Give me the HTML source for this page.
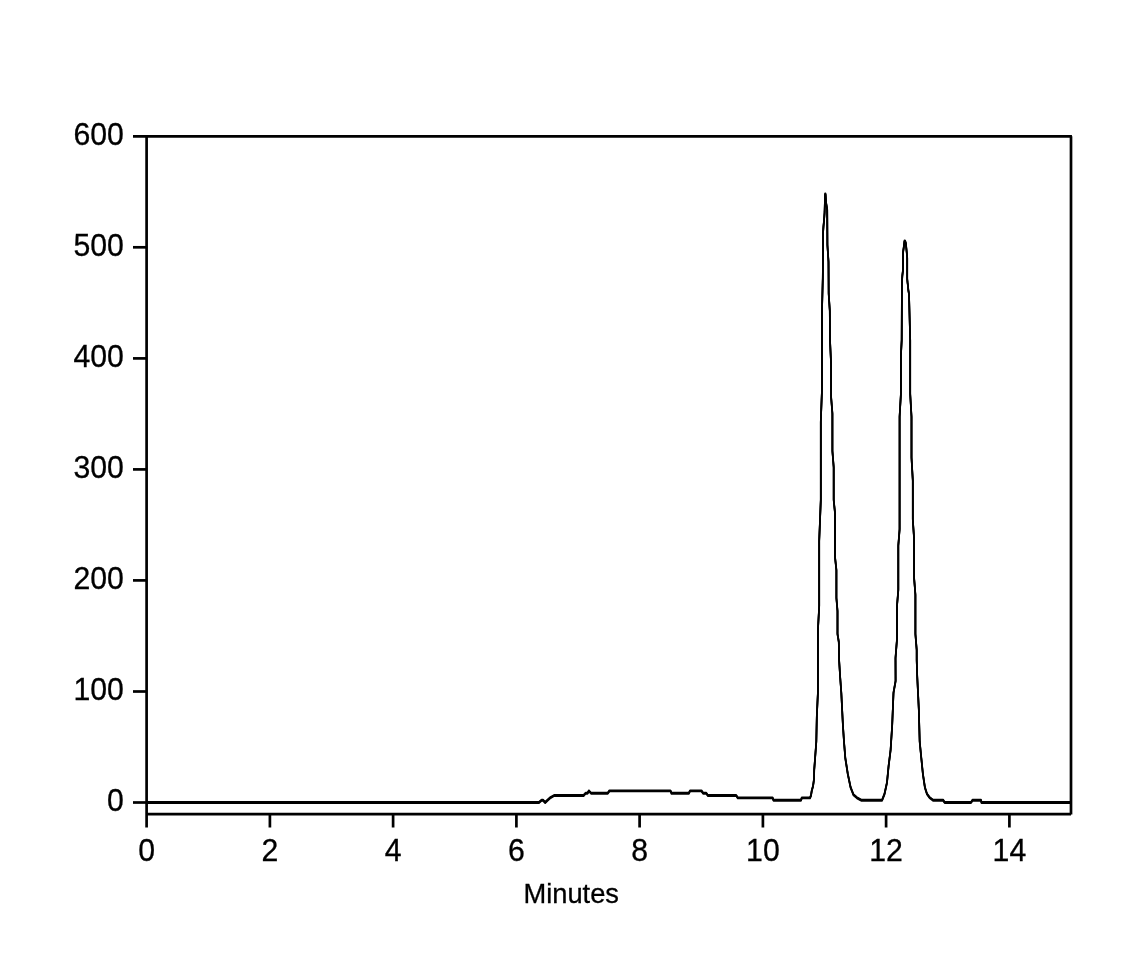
<!DOCTYPE html>
<html lang="en"><head><meta charset="utf-8"><title>Chromatogram</title>
<style>html,body{margin:0;padding:0;background:#fff;}svg{display:block;}text{font-family:"Liberation Sans",Arial,sans-serif;fill:#000;stroke:#000;stroke-width:0.3px;}</style></head><body>
<svg width="1141" height="980" viewBox="0 0 1141 980">
<rect width="1141" height="980" fill="#fff"/>
<g stroke="#000" stroke-width="2.7" fill="none" stroke-linecap="butt">
<line x1="146.6" y1="134.95000000000002" x2="146.6" y2="827.5"/>
<line x1="1071.0" y1="136.3" x2="1071.0" y2="814.6"/>
<line x1="133" y1="136.3" x2="1071.9499999999998" y2="136.3"/>
<line x1="146.6" y1="814.1" x2="1071.0" y2="814.1"/>
<line x1="133" y1="802.5" x2="146.6" y2="802.5"/>
<line x1="133" y1="691.5" x2="146.6" y2="691.5"/>
<line x1="133" y1="580.4" x2="146.6" y2="580.4"/>
<line x1="133" y1="469.4" x2="146.6" y2="469.4"/>
<line x1="133" y1="358.4" x2="146.6" y2="358.4"/>
<line x1="133" y1="247.3" x2="146.6" y2="247.3"/>
<line x1="269.9" y1="814.1" x2="269.9" y2="827.5"/>
<line x1="393.1" y1="814.1" x2="393.1" y2="827.5"/>
<line x1="516.4" y1="814.1" x2="516.4" y2="827.5"/>
<line x1="639.6" y1="814.1" x2="639.6" y2="827.5"/>
<line x1="762.9" y1="814.1" x2="762.9" y2="827.5"/>
<line x1="886.1" y1="814.1" x2="886.1" y2="827.5"/>
<line x1="1009.4" y1="814.1" x2="1009.4" y2="827.5"/>
</g>
<g fill="none" stroke="#000" stroke-width="1.7" stroke-linejoin="round" stroke-linecap="butt">
<polyline transform="translate(0,-0.6)" points="146.6,802.5 538.9,802.5 541.6,800.2 543.0,800.2 545.2,802.5 547.5,800.2 550.0,797.9 554.2,795.5 583.6,795.5 585.7,793.2 587.5,793.2 588.9,790.9 591.0,793.2 607.8,793.2 609.4,790.9 670.5,790.9 671.5,793.2 688.9,793.2 690.0,790.9 701.5,790.9 703.1,793.2 706.3,793.2 707.8,795.5 736.2,795.5 737.8,797.9 772.6,797.9 773.5,800.2 801.0,800.2 801.8,797.9 810.0,797.9 811.0,795.5 811.8,790.4 813.0,786.3 813.6,782.2 814.1,778.2 814.2,770.0 815.1,758.0 816.3,741.7 816.8,717.0 817.9,692.7 817.9,630.7 819.2,606.0 819.2,540.8 820.8,500.0 820.8,421.7 822.0,389.0 822.0,310.7 822.8,278.0 823.1,245.0 823.1,232.0 823.5,226.0 824.0,221.0 824.6,212.5 825.1,194.0 825.5,194.0 826.1,203.0 827.2,209.5 827.4,245.0 828.5,261.7 828.7,294.0 829.8,310.7 830.0,340.0 831.1,364.5 831.1,397.0 832.4,413.5 832.4,451.0 833.7,467.4 833.7,500.0 835.0,513.0 835.0,557.0 836.4,570.0 836.4,598.0 837.5,611.0 837.5,634.0 838.8,642.0 839.1,660.0 840.1,676.3 841.3,692.7 842.1,709.0 842.9,725.0 844.0,741.7 845.3,758.0 847.8,774.0 850.6,787.4 853.5,794.8 857.0,797.8 861.2,800.2 882.1,800.2 884.5,794.0 887.0,782.5 888.6,766.0 890.6,750.0 892.2,725.0 893.5,692.7 895.6,681.0 895.5,658.0 897.0,639.0 897.0,606.0 898.3,590.0 898.3,545.7 899.6,529.4 899.6,416.8 900.9,394.0 900.9,356.0 901.7,340.0 901.9,290.0 902.0,282.0 902.3,276.0 903.0,270.0 903.1,252.0 903.8,247.0 904.5,241.0 905.0,241.0 905.8,243.0 906.3,248.0 906.9,254.0 907.2,258.0 907.2,279.0 907.6,283.0 908.0,286.0 908.3,290.0 909.0,294.0 910.2,340.0 910.2,394.0 911.5,416.8 911.5,457.6 912.8,480.5 912.8,519.6 914.1,539.0 914.1,578.0 915.4,594.7 915.4,634.0 916.7,650.0 916.7,660.0 917.2,676.0 918.8,709.0 919.7,741.7 921.3,758.0 922.9,774.0 924.9,787.4 927.0,794.0 929.5,797.4 933.1,800.2 943.1,800.2 944.7,802.5 971.0,802.5 972.6,800.2 981.0,800.2 981.5,802.5 1071.0,802.5"/>
<polyline transform="translate(0,0)" points="146.6,802.5 538.9,802.5 541.6,800.2 543.0,800.2 545.2,802.5 547.5,800.2 550.0,797.9 554.2,795.5 583.6,795.5 585.7,793.2 587.5,793.2 588.9,790.9 591.0,793.2 607.8,793.2 609.4,790.9 670.5,790.9 671.5,793.2 688.9,793.2 690.0,790.9 701.5,790.9 703.1,793.2 706.3,793.2 707.8,795.5 736.2,795.5 737.8,797.9 772.6,797.9 773.5,800.2 801.0,800.2 801.8,797.9 810.0,797.9 811.0,795.5 811.8,790.4 813.0,786.3 813.6,782.2 814.1,778.2 814.2,770.0 815.1,758.0 816.3,741.7 816.8,717.0 817.9,692.7 817.9,630.7 819.2,606.0 819.2,540.8 820.8,500.0 820.8,421.7 822.0,389.0 822.0,310.7 822.8,278.0 823.1,245.0 823.1,232.0 823.5,226.0 824.0,221.0 824.6,212.5 825.1,194.0 825.5,194.0 826.1,203.0 827.2,209.5 827.4,245.0 828.5,261.7 828.7,294.0 829.8,310.7 830.0,340.0 831.1,364.5 831.1,397.0 832.4,413.5 832.4,451.0 833.7,467.4 833.7,500.0 835.0,513.0 835.0,557.0 836.4,570.0 836.4,598.0 837.5,611.0 837.5,634.0 838.8,642.0 839.1,660.0 840.1,676.3 841.3,692.7 842.1,709.0 842.9,725.0 844.0,741.7 845.3,758.0 847.8,774.0 850.6,787.4 853.5,794.8 857.0,797.8 861.2,800.2 882.1,800.2 884.5,794.0 887.0,782.5 888.6,766.0 890.6,750.0 892.2,725.0 893.5,692.7 895.6,681.0 895.5,658.0 897.0,639.0 897.0,606.0 898.3,590.0 898.3,545.7 899.6,529.4 899.6,416.8 900.9,394.0 900.9,356.0 901.7,340.0 901.9,290.0 902.0,282.0 902.3,276.0 903.0,270.0 903.1,252.0 903.8,247.0 904.5,241.0 905.0,241.0 905.8,243.0 906.3,248.0 906.9,254.0 907.2,258.0 907.2,279.0 907.6,283.0 908.0,286.0 908.3,290.0 909.0,294.0 910.2,340.0 910.2,394.0 911.5,416.8 911.5,457.6 912.8,480.5 912.8,519.6 914.1,539.0 914.1,578.0 915.4,594.7 915.4,634.0 916.7,650.0 916.7,660.0 917.2,676.0 918.8,709.0 919.7,741.7 921.3,758.0 922.9,774.0 924.9,787.4 927.0,794.0 929.5,797.4 933.1,800.2 943.1,800.2 944.7,802.5 971.0,802.5 972.6,800.2 981.0,800.2 981.5,802.5 1071.0,802.5"/>
<polyline transform="translate(0,0.6)" points="146.6,802.5 538.9,802.5 541.6,800.2 543.0,800.2 545.2,802.5 547.5,800.2 550.0,797.9 554.2,795.5 583.6,795.5 585.7,793.2 587.5,793.2 588.9,790.9 591.0,793.2 607.8,793.2 609.4,790.9 670.5,790.9 671.5,793.2 688.9,793.2 690.0,790.9 701.5,790.9 703.1,793.2 706.3,793.2 707.8,795.5 736.2,795.5 737.8,797.9 772.6,797.9 773.5,800.2 801.0,800.2 801.8,797.9 810.0,797.9 811.0,795.5 811.8,790.4 813.0,786.3 813.6,782.2 814.1,778.2 814.2,770.0 815.1,758.0 816.3,741.7 816.8,717.0 817.9,692.7 817.9,630.7 819.2,606.0 819.2,540.8 820.8,500.0 820.8,421.7 822.0,389.0 822.0,310.7 822.8,278.0 823.1,245.0 823.1,232.0 823.5,226.0 824.0,221.0 824.6,212.5 825.1,194.0 825.5,194.0 826.1,203.0 827.2,209.5 827.4,245.0 828.5,261.7 828.7,294.0 829.8,310.7 830.0,340.0 831.1,364.5 831.1,397.0 832.4,413.5 832.4,451.0 833.7,467.4 833.7,500.0 835.0,513.0 835.0,557.0 836.4,570.0 836.4,598.0 837.5,611.0 837.5,634.0 838.8,642.0 839.1,660.0 840.1,676.3 841.3,692.7 842.1,709.0 842.9,725.0 844.0,741.7 845.3,758.0 847.8,774.0 850.6,787.4 853.5,794.8 857.0,797.8 861.2,800.2 882.1,800.2 884.5,794.0 887.0,782.5 888.6,766.0 890.6,750.0 892.2,725.0 893.5,692.7 895.6,681.0 895.5,658.0 897.0,639.0 897.0,606.0 898.3,590.0 898.3,545.7 899.6,529.4 899.6,416.8 900.9,394.0 900.9,356.0 901.7,340.0 901.9,290.0 902.0,282.0 902.3,276.0 903.0,270.0 903.1,252.0 903.8,247.0 904.5,241.0 905.0,241.0 905.8,243.0 906.3,248.0 906.9,254.0 907.2,258.0 907.2,279.0 907.6,283.0 908.0,286.0 908.3,290.0 909.0,294.0 910.2,340.0 910.2,394.0 911.5,416.8 911.5,457.6 912.8,480.5 912.8,519.6 914.1,539.0 914.1,578.0 915.4,594.7 915.4,634.0 916.7,650.0 916.7,660.0 917.2,676.0 918.8,709.0 919.7,741.7 921.3,758.0 922.9,774.0 924.9,787.4 927.0,794.0 929.5,797.4 933.1,800.2 943.1,800.2 944.7,802.5 971.0,802.5 972.6,800.2 981.0,800.2 981.5,802.5 1071.0,802.5"/>
</g>
<g font-size="30.25" text-anchor="end">
<text transform="translate(123.9,811.3) scale(1,1.035)">0</text>
<text transform="translate(123.9,700.3) scale(1,1.035)">100</text>
<text transform="translate(123.9,589.2) scale(1,1.035)">200</text>
<text transform="translate(123.9,478.2) scale(1,1.035)">300</text>
<text transform="translate(123.9,367.2) scale(1,1.035)">400</text>
<text transform="translate(123.9,256.1) scale(1,1.035)">500</text>
<text transform="translate(123.9,145.1) scale(1,1.035)">600</text>
</g>
<g font-size="30.25" text-anchor="middle">
<text transform="translate(146.6,860.8) scale(1,1.035)">0</text>
<text transform="translate(269.9,860.8) scale(1,1.035)">2</text>
<text transform="translate(393.1,860.8) scale(1,1.035)">4</text>
<text transform="translate(516.4,860.8) scale(1,1.035)">6</text>
<text transform="translate(639.6,860.8) scale(1,1.035)">8</text>
<text transform="translate(762.9,860.8) scale(1,1.035)">10</text>
<text transform="translate(886.1,860.8) scale(1,1.035)">12</text>
<text transform="translate(1009.4,860.8) scale(1,1.035)">14</text>
</g>
<text transform="translate(571.2,902.7) scale(1,1.03)" font-size="27.3" text-anchor="middle">Minutes</text>
</svg></body></html>
